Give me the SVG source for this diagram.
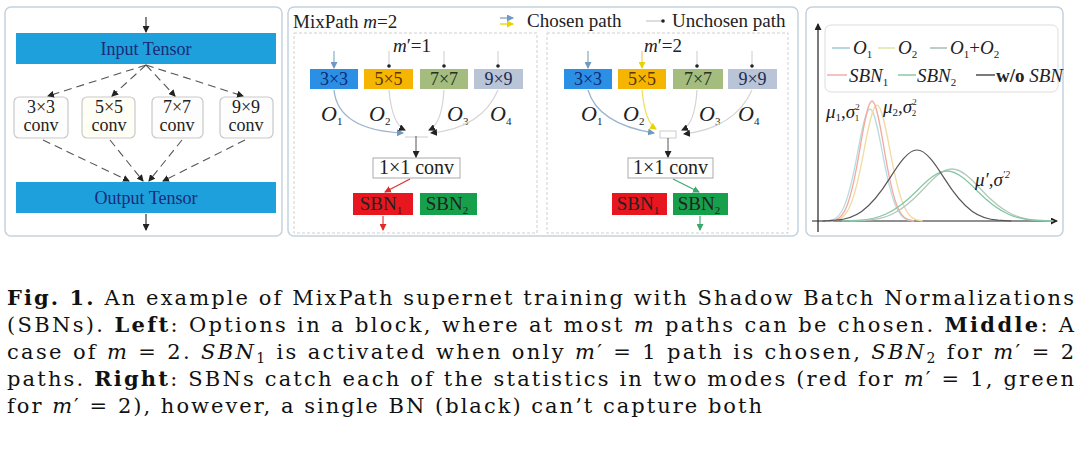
<svg xmlns="http://www.w3.org/2000/svg" width="1080" height="450" viewBox="0 0 1080 450">
<style>
.panel{fill:#ffffff;stroke:#c5d2de;stroke-width:1.5}
.inner{fill:#ffffff;stroke:#cfcfcf;stroke-width:1;stroke-dasharray:3 2}
.bar{fill:#1ea0dc}
.bartxt{font-family:"Liberation Serif",serif;font-size:18px;fill:#1b2a78;text-anchor:middle}
.conv{fill:#fdfdfd;stroke:#c9c9c9;stroke-width:1.2}
.ctxt{font-family:"Liberation Serif",serif;font-size:18px;fill:#222;text-anchor:middle}
.dash{fill:none;stroke:#555;stroke-width:1.1;stroke-dasharray:8 5}
.t{font-family:"Liberation Serif",serif;fill:#222}
.optxt{font-family:"Liberation Serif",serif;font-size:18px;text-anchor:middle}
.olab{font-family:"Liberation Serif",serif;font-style:italic;font-size:22px;fill:#222}
.sub{font-size:11px;font-style:normal}
.thin{fill:none;stroke:#d4d4d4;stroke-width:1.2}
.blk{fill:none;stroke:#222;stroke-width:1.1}
.cap{font-family:"DejaVu Serif","Liberation Serif",serif;font-size:21px;fill:#111}
.leg{font-family:"Liberation Serif",serif;font-style:italic;font-size:19px;fill:#222}
</style>
<defs>
<marker id="ab" markerWidth="7" markerHeight="7" refX="6" refY="3.5" orient="auto" markerUnits="userSpaceOnUse"><path d="M0,0 L7,3.5 L0,7 z" fill="#222"/></marker>
<marker id="ar" markerWidth="7" markerHeight="7" refX="6" refY="3.5" orient="auto" markerUnits="userSpaceOnUse"><path d="M0,0 L7,3.5 L0,7 z" fill="#e02a2a"/></marker>
<marker id="ag" markerWidth="7" markerHeight="7" refX="6" refY="3.5" orient="auto" markerUnits="userSpaceOnUse"><path d="M0,0 L7,3.5 L0,7 z" fill="#3aa86a"/></marker>
<marker id="abl" markerWidth="7" markerHeight="7" refX="6" refY="3.5" orient="auto" markerUnits="userSpaceOnUse"><path d="M0,0 L7,3.5 L0,7 z" fill="#6f98c4"/></marker>
<marker id="ay" markerWidth="7" markerHeight="7" refX="6" refY="3.5" orient="auto" markerUnits="userSpaceOnUse"><path d="M0,0 L7,3.5 L0,7 z" fill="#e6d400"/></marker>
<marker id="dot" markerWidth="4" markerHeight="4" refX="2" refY="2" markerUnits="userSpaceOnUse"><circle cx="2" cy="2" r="1.8" fill="#222"/></marker>
</defs>

<!-- Panels -->
<g id="panel-left"><rect class="panel" x="5" y="7" width="277" height="229" rx="6"/></g>
<g id="panel-middle"><rect class="panel" x="288" y="7" width="510" height="229" rx="6"/>
<rect class="inner" x="294" y="33" width="243" height="200"/>
<rect class="inner" x="547" y="33" width="241" height="200"/></g>
<g id="panel-right"><rect class="panel" x="806" y="7" width="257" height="229" rx="6"/></g>

<!-- Left panel nodes -->
<g id="input-tensor"><rect class="bar" x="16" y="33" width="260" height="31"/><text class="bartxt" x="146" y="55">Input Tensor</text></g>
<g id="output-tensor"><rect class="bar" x="16" y="182" width="260" height="31"/><text class="bartxt" x="146" y="204">Output Tensor</text></g>
<g id="conv3"><rect class="conv" x="14" y="97" width="54" height="41" rx="5"/><text class="ctxt" x="41" y="113">3×3</text><text class="ctxt" x="41" y="131">conv</text></g>
<g id="conv5"><rect class="conv" x="82" y="97" width="53" height="41" rx="5" style="fill:#fffef4"/><text class="ctxt" x="109" y="113">5×5</text><text class="ctxt" x="109" y="131">conv</text></g>
<g id="conv7"><rect class="conv" x="152" y="97" width="51" height="41" rx="5"/><text class="ctxt" x="177" y="113">7×7</text><text class="ctxt" x="177" y="131">conv</text></g>
<g id="conv9"><rect class="conv" x="220" y="97" width="53" height="41" rx="5"/><text class="ctxt" x="246" y="113">9×9</text><text class="ctxt" x="246" y="131">conv</text></g>

<!-- Middle panel header -->
<g id="mid-title"><text class="t" x="293" y="28" font-size="19">MixPath  <tspan font-style="italic">m</tspan>=2</text></g>
<g id="legend-chosen">
<line x1="500" y1="18" x2="513" y2="18" stroke="#7fa3c8" stroke-width="1.3" marker-end="url(#abl)"/>
<line x1="500" y1="24" x2="513" y2="24" stroke="#e6d400" stroke-width="1.3" marker-end="url(#ay)"/>
<text class="t" x="527" y="27" font-size="19">Chosen path</text></g>
<g id="legend-unchosen">
<line x1="646" y1="21" x2="663" y2="21" stroke="#bbb" stroke-width="1" marker-end="url(#dot)"/>
<text class="t" x="672" y="27" font-size="19">Unchosen path</text></g>

<!-- Middle panel 1 nodes (m'=1) -->
<g id="p1-label"><text class="t" x="412" y="52" font-size="19" text-anchor="middle"><tspan font-style="italic">m</tspan>′=1</text></g>
<g id="p1-op3"><rect x="310" y="69" width="48" height="20" fill="#2b8fe6"/><text class="optxt" x="334" y="85" fill="#0b2a6e">3×3</text></g>
<g id="p1-op5"><rect x="364" y="69" width="49" height="20" fill="#f6b500"/><text class="optxt" x="388.5" y="85" fill="#5a3600">5×5</text></g>
<g id="p1-op7"><rect x="420" y="69" width="48" height="20" fill="#a4bc7e"/><text class="optxt" x="444" y="85" fill="#24331a">7×7</text></g>
<g id="p1-op9"><rect x="474" y="69" width="49" height="20" fill="#b9c5d6"/><text class="optxt" x="498.5" y="85" fill="#1c2a50">9×9</text></g>
<g id="p1-olabels">
<text class="olab" x="321" y="121">O<tspan class="sub" dy="4">1</tspan></text>
<text class="olab" x="369" y="121">O<tspan class="sub" dy="4">2</tspan></text>
<text class="olab" x="447" y="121">O<tspan class="sub" dy="4">3</tspan></text>
<text class="olab" x="490" y="121">O<tspan class="sub" dy="4">4</tspan></text></g>
<g id="p1-conv1"><rect x="373" y="158" width="87" height="20" fill="#fff" stroke="#aaa" stroke-width="1"/><text class="t" x="416.5" y="174" font-size="20" text-anchor="middle">1×1 conv</text></g>
<g id="p1-sbn1"><rect x="353" y="193" width="60" height="22" fill="#e8161e"/><text class="t" x="381" y="210" font-size="19" text-anchor="middle" fill="#8a0808">SBN<tspan font-size="11" dy="4">1</tspan></text></g>
<g id="p1-sbn2"><rect x="420" y="193" width="57" height="22" fill="#17a04b"/><text class="t" x="447" y="210" font-size="19" text-anchor="middle" fill="#0a4a1e">SBN<tspan font-size="11" dy="4">2</tspan></text></g>

<!-- Middle panel 2 nodes (m'=2) -->
<g id="p2-label"><text class="t" x="663" y="52" font-size="19" text-anchor="middle"><tspan font-style="italic">m</tspan>′=2</text></g>
<g id="p2-op3"><rect x="564" y="69" width="48" height="20" fill="#2b8fe6"/><text class="optxt" x="588" y="85" fill="#0b2a6e">3×3</text></g>
<g id="p2-op5"><rect x="618" y="69" width="48" height="20" fill="#f6b500"/><text class="optxt" x="642" y="85" fill="#5a3600">5×5</text></g>
<g id="p2-op7"><rect x="673" y="69" width="50" height="20" fill="#a4bc7e"/><text class="optxt" x="698" y="85" fill="#24331a">7×7</text></g>
<g id="p2-op9"><rect x="728" y="69" width="49" height="20" fill="#b9c5d6"/><text class="optxt" x="752.5" y="85" fill="#1c2a50">9×9</text></g>
<g id="p2-olabels">
<text class="olab" x="581" y="121">O<tspan class="sub" dy="4">1</tspan></text>
<text class="olab" x="623" y="121">O<tspan class="sub" dy="4">2</tspan></text>
<text class="olab" x="699" y="121">O<tspan class="sub" dy="4">3</tspan></text>
<text class="olab" x="738" y="121">O<tspan class="sub" dy="4">4</tspan></text></g>
<g id="p2-conv1"><rect x="628" y="158" width="85" height="20" fill="#fff" stroke="#aaa" stroke-width="1"/><text class="t" x="670.5" y="174" font-size="20" text-anchor="middle">1×1 conv</text></g>
<g id="p2-sbn1"><rect x="612" y="193" width="55" height="22" fill="#e8161e"/><text class="t" x="638" y="210" font-size="19" text-anchor="middle" fill="#8a0808">SBN<tspan font-size="11" dy="4">1</tspan></text></g>
<g id="p2-sbn2"><rect x="673" y="193" width="55" height="22" fill="#17a04b"/><text class="t" x="699" y="210" font-size="19" text-anchor="middle" fill="#0a4a1e">SBN<tspan font-size="11" dy="4">2</tspan></text></g>

<!-- Connectors -->
<g id="connectors">
<line class="blk" x1="146" y1="17" x2="146" y2="32" marker-end="url(#ab)"/>
<line class="blk" x1="146" y1="214" x2="146" y2="230" marker-end="url(#ab)"/>
<line class="dash" x1="146" y1="65" x2="48" y2="96" marker-end="url(#ab)"/>
<line class="dash" x1="146" y1="65" x2="112" y2="96" marker-end="url(#ab)"/>
<line class="dash" x1="146" y1="65" x2="175" y2="96" marker-end="url(#ab)"/>
<line class="dash" x1="146" y1="65" x2="243" y2="96" marker-end="url(#ab)"/>
<line class="dash" x1="43" y1="140" x2="129" y2="181" marker-end="url(#ab)"/>
<line class="dash" x1="110" y1="140" x2="143" y2="181" marker-end="url(#ab)"/>
<line class="dash" x1="182" y1="140" x2="149" y2="181" marker-end="url(#ab)"/>
<line class="dash" x1="245" y1="140" x2="163" y2="181" marker-end="url(#ab)"/>

<!-- panel 1 -->
<line x1="334" y1="51" x2="334" y2="68" stroke="#7fa3c8" stroke-width="1.1" marker-end="url(#abl)"/>
<line x1="389" y1="51" x2="389" y2="66" stroke="#ccc" stroke-width="1" marker-end="url(#dot)"/>
<line x1="444" y1="51" x2="444" y2="66" stroke="#ccc" stroke-width="1" marker-end="url(#dot)"/>
<line x1="498" y1="51" x2="498" y2="66" stroke="#ccc" stroke-width="1" marker-end="url(#dot)"/>
<path d="M334 90 Q338 130 403 133" fill="none" stroke="#9ab4cf" stroke-width="1.3" marker-end="url(#abl)"/>
<path class="thin" d="M389 90 Q392 124 405 130" marker-end="url(#ab)"/>
<path class="thin" d="M444 90 Q442 124 429 130" marker-end="url(#ab)"/>
<path class="thin" d="M498 90 Q482 128 431 133" marker-end="url(#ab)"/>
<line x1="405" y1="137" x2="428" y2="137" stroke="#ccc" stroke-width="1"/>
<line x1="416" y1="136" x2="416" y2="157" stroke="#555" stroke-width="1" marker-end="url(#ab)"/>
<line x1="410" y1="179" x2="385" y2="192" stroke="#e02a2a" stroke-width="1.1" marker-end="url(#ar)"/>
<line x1="383" y1="216" x2="383" y2="230" stroke="#e02a2a" stroke-width="1.1" marker-end="url(#ar)"/>

<!-- panel 2 -->
<line x1="588" y1="51" x2="588" y2="68" stroke="#6fa8b4" stroke-width="1.1" marker-end="url(#abl)"/>
<line x1="642" y1="51" x2="642" y2="68" stroke="#f0c070" stroke-width="1.1" marker-end="url(#ay)"/>
<line x1="697" y1="51" x2="697" y2="66" stroke="#ccc" stroke-width="1" marker-end="url(#dot)"/>
<line x1="752" y1="51" x2="752" y2="66" stroke="#ccc" stroke-width="1" marker-end="url(#dot)"/>
<path d="M588 90 Q598 124 654 133" fill="none" stroke="#9ab4cf" stroke-width="1.3" marker-end="url(#abl)"/>
<path d="M642 90 Q645 122 656 129" fill="none" stroke="#f0e060" stroke-width="1.3" marker-end="url(#ay)"/>
<path class="thin" d="M697 90 Q695 124 682 130" marker-end="url(#ab)"/>
<path class="thin" d="M752 90 Q735 128 684 134" marker-end="url(#ab)"/>
<rect x="660" y="131" width="16" height="7" fill="none" stroke="#ccc" stroke-width="1"/>
<line x1="668" y1="138" x2="668" y2="157" stroke="#555" stroke-width="1" marker-end="url(#ab)"/>
<line x1="673" y1="179" x2="699" y2="192" stroke="#3aa86a" stroke-width="1.1" marker-end="url(#ag)"/>
<line x1="700" y1="216" x2="700" y2="230" stroke="#3aa86a" stroke-width="1.1" marker-end="url(#ag)"/>
</g>

<!-- Right panel: chart -->
<g id="chart">
<line x1="818" y1="232" x2="818" y2="24" stroke="#222" stroke-width="1.2" marker-end="url(#ab)"/>
<line x1="812" y1="221" x2="1057" y2="221" stroke="#222" stroke-width="1.2" marker-end="url(#ab)"/>
<rect x="825" y="25" width="233" height="67" rx="6" fill="#fff" stroke="#ddd" stroke-width="1"/>
<line x1="832" y1="48" x2="850" y2="48" stroke="#8ec5d0" stroke-width="1.3"/>
<text class="leg" x="853" y="54">O<tspan class="sub" dy="4">1</tspan></text>
<line x1="878" y1="48" x2="895" y2="48" stroke="#d8e49a" stroke-width="1.3"/>
<text class="leg" x="898" y="54">O<tspan class="sub" dy="4">2</tspan></text>
<line x1="930" y1="48" x2="947" y2="48" stroke="#99b0a8" stroke-width="1.3"/>
<text class="leg" x="950" y="54">O<tspan class="sub" dy="4">1</tspan><tspan dy="-4" style="font-style:normal">+</tspan>O<tspan class="sub" dy="4">2</tspan></text>
<line x1="827" y1="75" x2="847" y2="75" stroke="#f2a0a0" stroke-width="1.3"/>
<text class="leg" x="849" y="82">SBN<tspan class="sub" dy="4">1</tspan></text>
<line x1="898" y1="75" x2="916" y2="75" stroke="#78c098" stroke-width="1.3"/>
<text class="leg" x="917" y="82">SBN<tspan class="sub" dy="4">2</tspan></text>
<line x1="976" y1="75" x2="995" y2="75" stroke="#333" stroke-width="1.3"/>
<text class="leg" x="996" y="82"><tspan style="font-style:normal;font-weight:bold">w/o</tspan> SBN</text>

<path d="M826.25 221 L832.5 219.8 C840.8 217.3 847.5 207.4 857.5 153.1 C861.7 130.4 865.8 109 870 109 C874.2 109 878.3 130.4 882.5 153.1 C892.5 207.4 899.2 217.3 907.5 219.8 L913.75 221" fill="none" stroke="#b8dce2" stroke-width="1.3"/>
<path d="M831.5 221 L838 219.7 C846.7 217.2 853.6 206.9 864 150.6 C868.3 127.2 872.7 105 877 105 C881.3 105 885.7 127.2 890 150.6 C900.4 206.9 907.3 217.2 916 219.7 L922.5 221" fill="none" stroke="#f0dca0" stroke-width="1.3"/>
<path d="M830 221 L836 219.7 C844 217 850.4 206.4 860 148.2 C864 124 868 101 872 101 C876 101 880 124 884 148.2 C893.6 206.4 900 217 908 219.7 L914 221" fill="none" stroke="#f2aaa0" stroke-width="1.3"/>
<path d="M850.5 221 L865 220.4 C884.3 219.3 899.8 214.7 923 189.5 C932.7 178.9 942.3 169 952 169 C961.7 169 971.3 178.9 981 189.5 C1004.2 214.7 1019.7 219.3 1039 220.4 L1053.5 221" fill="none" stroke="#b4c8bc" stroke-width="1.3"/>
<path d="M842 221 L857 220.45 C877 219.35 893 214.9 917 190.7 C927 180.6 937 171 947 171 C957 171 967 180.6 977 190.7 C1001 214.9 1017 219.35 1037 220.45 L1052 221" fill="none" stroke="#86c8a4" stroke-width="1.3"/>
<path d="M822.5 221 L836 220.2 C854 218.7 868.4 212.4 890 177.9 C899 163.6 908 150 917 150 C926 150 935 163.6 944 177.9 C965.6 212.4 980 218.7 998 220.2 L1011.5 221" fill="none" stroke="#555" stroke-width="1.2"/>
<text class="leg" x="826" y="118" font-size="17">μ<tspan class="sub" font-size="9" dy="3">1</tspan><tspan dy="-3" style="font-style:normal">,</tspan>σ<tspan font-size="9" dy="-8" style="font-style:normal">2</tspan><tspan font-size="9" dx="-5" dy="11" style="font-style:normal">1</tspan></text>
<text class="leg" x="883" y="113" font-size="17">μ<tspan class="sub" font-size="9" dy="3">2</tspan><tspan dy="-3" style="font-style:normal">,</tspan>σ<tspan font-size="9" dy="-8" style="font-style:normal">2</tspan><tspan font-size="9" dx="-5" dy="11" style="font-style:normal">2</tspan></text>
<text class="leg" x="975" y="186" font-size="17">μ′<tspan style="font-style:normal">,</tspan>σ<tspan font-size="10" dy="-8">′2</tspan></text>
</g>

<!-- Caption -->
<g id="caption">
<text class="cap" x="7" y="305" textLength="1067" lengthAdjust="spacing"><tspan font-weight="bold">Fig. 1.</tspan> An example of MixPath supernet training with Shadow Batch Normalizations</text>
<text class="cap" x="7" y="332" textLength="1067" lengthAdjust="spacing">(SBNs). <tspan font-weight="bold">Left</tspan>: Options in a block, where at most <tspan font-style="italic">m</tspan> paths can be chosen. <tspan font-weight="bold">Middle</tspan>: A</text>
<text class="cap" x="7" y="359" textLength="1067" lengthAdjust="spacing">case of <tspan font-style="italic">m</tspan> = 2. <tspan font-style="italic">SBN</tspan><tspan font-size="14" dy="4">1</tspan><tspan dy="-4"> is activated when only </tspan><tspan font-style="italic">m</tspan>′ = 1 path is chosen, <tspan font-style="italic">SBN</tspan><tspan font-size="14" dy="4">2</tspan><tspan dy="-4"> for </tspan><tspan font-style="italic">m</tspan>′ = 2</text>
<text class="cap" x="7" y="386" textLength="1067" lengthAdjust="spacing">paths. <tspan font-weight="bold">Right</tspan>: SBNs catch each of the statistics in two modes (red for <tspan font-style="italic">m</tspan>′ = 1, green</text>
<text class="cap" x="7" y="413" textLength="755" lengthAdjust="spacing">for <tspan font-style="italic">m</tspan>′ = 2), however, a single BN (black) can’t capture both</text>
</g>
</svg>
